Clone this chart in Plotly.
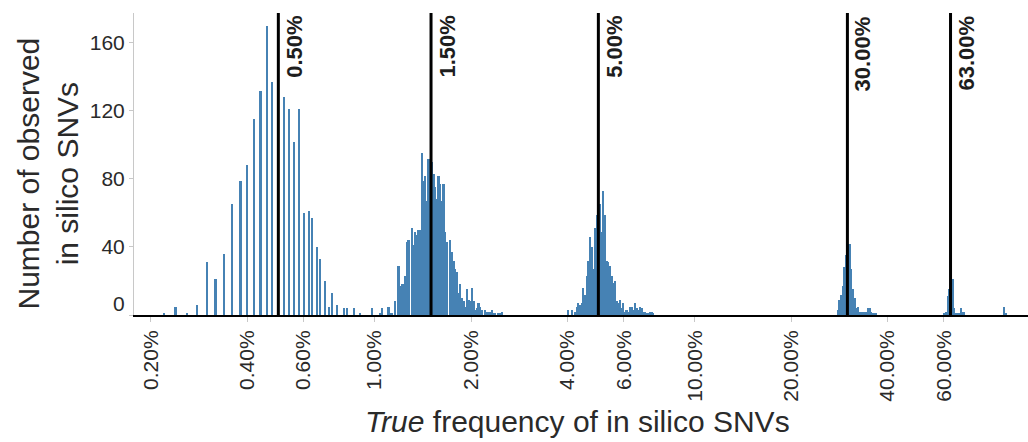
import numpy as np
import plotly.graph_objects as go

# Histogram bin width, in decades of log10(frequency in percent).
BIN_W = 0.0052

# Low-frequency spike-ins: observed frequencies are discrete (steps of 0.02 %).
LOW_FREQ_PCT = [0.22, 0.24, 0.26, 0.28, 0.30, 0.32, 0.34, 0.36, 0.38, 0.40,
                0.42, 0.44, 0.46, 0.48, 0.52, 0.54, 0.56, 0.58, 0.60, 0.62,
                0.64, 0.66, 0.68, 0.70, 0.72, 0.74, 0.76, 0.80, 0.82, 0.86,
                0.90, 0.98]
LOW_COUNTS = [1, 5, 1, 6, 31, 21, 36, 65, 79, 88,
              115, 132, 170, 137, 128, 121, 102, 121, 60, 61,
              57, 40, 33, 20, 5, 13, 6, 4, 4, 4,
              1, 4]

# Binned clusters: first bin index, then counts of consecutive bins.
# Bin k spans 10**(k*BIN_W) .. 10**((k+1)*BIN_W) percent.
MID_START = 3
MID_COUNTS = [1, 4, 0, 0, 0, 5, 1, 1, 0, 8, 0, 29, 17, 18, 18, 23, 43, 44, 0,
              51, 41, 49, 47, 50, 50, 95, 79, 82, 67, 92, 92, 90, 83, 75, 68,
              82, 77, 67, 77, 49, 43, 0, 44, 37, 32, 27, 25, 13, 18, 10, 8, 5,
              15, 9, 8, 16, 8, 3, 4, 7, 5, 3, 0, 3, 2, 2, 2, 3, 1, 1, 0, 1, 1, 2]

FIVE_START = 116
FIVE_COUNTS = [3, 0, 3, 0, 2, 5, 7, 6, 7, 16, 12, 23, 32, 46, 40, 27, 51, 59,
               60, 65, 49, 73, 59, 32, 31, 29, 23, 19, 20, 8, 7, 9, 4, 7, 2, 3,
               2, 5, 5, 3, 7, 4, 3, 5, 4, 2, 2, 1, 1, 2, 2, 1]

THIRTY_START = 278
THIRTY_COUNTS = [3, 9, 12, 17, 28, 35, 40, 42, 27, 15, 10, 4, 5, 2, 2, 2, 2,
                 2, 4, 4, 2, 1, 1, 1]

SIXTY3_START = 342
SIXTY3_COUNTS = [1, 2, 11, 15, 20, 21, 4, 1, 1, 1, 4, 2, 2]

TAIL_START = 378
TAIL_COUNTS = [5, 1]

# Expected (spiked-in) frequencies, as fractions.
EXPECTED = [0.005, 0.015, 0.05, 0.30, 0.63]

X_TICKS = [0.002, 0.004, 0.006, 0.01, 0.02, 0.04, 0.06, 0.1, 0.2, 0.4, 0.6]
Y_TICKS = [0, 40, 80, 120, 160]

# ---- assemble histogram bins -------------------------------------------
bins = {}
for f, c in zip(LOW_FREQ_PCT, LOW_COUNTS):
    k = int(np.floor(np.log10(f) / BIN_W))
    bins[k] = bins.get(k, 0) + c
for start, counts in [(MID_START, MID_COUNTS), (FIVE_START, FIVE_COUNTS),
                      (THIRTY_START, THIRTY_COUNTS),
                      (SIXTY3_START, SIXTY3_COUNTS), (TAIL_START, TAIL_COUNTS)]:
    for i, c in enumerate(counts):
        bins[start + i] = bins.get(start + i, 0) + c

keys = sorted(k for k, c in bins.items() if c > 0)
lo = np.array([10 ** (k * BIN_W) / 100 for k in keys])
hi = np.array([10 ** ((k + 1) * BIN_W) / 100 for k in keys])
cnt = [bins[k] for k in keys]

FONT = "Liberation Sans, Arial, Helvetica, sans-serif"
TXT = "#2a2a2a"
Y_MAX = 177.6

fig = go.Figure()
fig.add_trace(go.Bar(
    x=lo, y=cnt, width=hi - lo, offset=0,
    marker=dict(color="#4682b4", line=dict(width=0)),
    showlegend=False, hoverinfo="skip"))

for v in EXPECTED:
    fig.add_trace(go.Scatter(
        x=[v, v], y=[0, Y_MAX], mode="lines",
        line=dict(color="black", width=3),
        showlegend=False, hoverinfo="skip"))

annotations = []
for v in EXPECTED:
    annotations.append(dict(
        x=np.log10(v), xref="x", y=1, yref="paper",
        text=f"<b>{v:.2%}</b>", textangle=-90, showarrow=False,
        xanchor="left", yanchor="top", xshift=1, yshift=-1,
        font=dict(family=FONT, size=22, color="#1e1e1e")))

# zero label sits flush with the bottom of the axis
annotations.append(dict(
    x=0, xref="paper", y=0, yref="y", text="0", showarrow=False,
    xanchor="right", yanchor="middle", xshift=-7, yshift=12,
    font=dict(family=FONT, size=21, color=TXT)))

annotations.append(dict(
    x=0.4966, xref="paper", y=-0.354, yref="paper",
    text="<i>True</i> frequency of in silico SNVs", showarrow=False,
    xanchor="center", yanchor="middle",
    font=dict(family=FONT, size=30, color=TXT)))

annotations.append(dict(
    x=-0.0973, xref="paper", y=0.4685, yref="paper",
    text="Number of observed<br>in silico SNVs", textangle=-90,
    showarrow=False, xanchor="center", yanchor="middle",
    font=dict(family=FONT, size=30, color=TXT)))

fig.update_layout(
    width=1028, height=442,
    margin=dict(l=134, r=0, t=13, b=127, pad=0),
    paper_bgcolor="white", plot_bgcolor="white",
    bargap=0,
    annotations=annotations,
    font=dict(family=FONT, color=TXT),
    xaxis=dict(
        type="log", range=[np.log10(0.00177), np.log10(1.1)],
        tickvals=X_TICKS, tickformat=".2%", tickangle=-90,
        ticks="outside", ticklen=5, tickcolor="#c8c8c8",
        showline=True, linecolor="black", linewidth=2,
        showgrid=False, zeroline=False,
        tickfont=dict(family=FONT, size=21, color=TXT)),
    yaxis=dict(
        range=[0, Y_MAX], tickvals=Y_TICKS,
        ticktext=["" if t == 0 else str(t) for t in Y_TICKS],
        ticks="outside", ticklen=4, tickcolor="#c8c8c8",
        showline=True, linecolor="#c8c8c8", linewidth=1,
        showgrid=False, zeroline=False,
        tickfont=dict(family=FONT, size=21, color=TXT)),
)

fig.write_html("out.html")
